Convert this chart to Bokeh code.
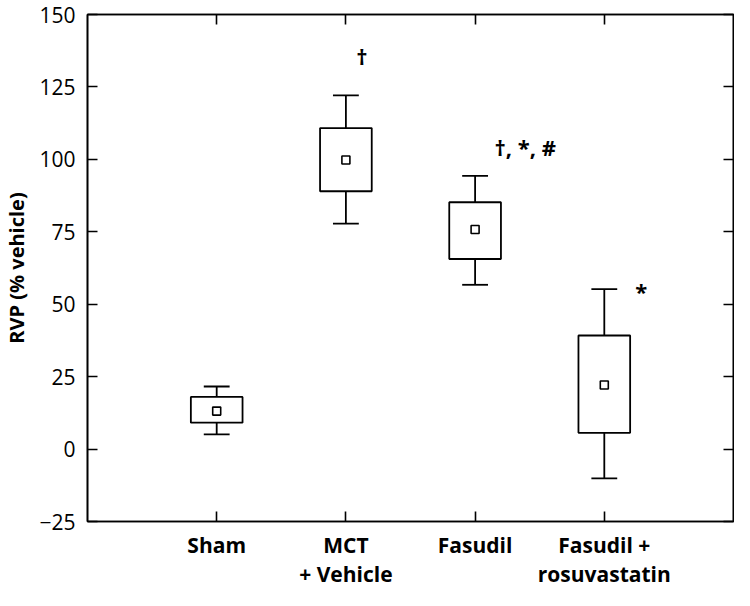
from bokeh.plotting import figure
from bokeh.models import LinearAxis, Range1d, FixedTicker, ColumnDataSource
from bokeh.core.properties import value
from bokeh.embed import file_html
from bokeh.resources import INLINE

# ---- data ----
categories = ["Sham", "MCT\n+ Vehicle", "Fasudil", "Fasudil +\nrosuvastatin"]
whisker_high = [21.6, 122.1, 94.3, 55.2]
box_top = [18.0, 110.8, 85.2, 39.2]
mean_val = [13.1, 99.8, 75.8, 22.1]
box_bottom = [9.1, 89.0, 65.6, 5.6]
whisker_low = [5.1, 77.8, 56.7, -10.1]
annotations = ["", "\u2020", "\u2020, *, #", "*"]
y_ticks = [-25, 0, 25, 50, 75, 100, 125, 150]

FONT = "Open Sans"
xs = [i + 1 for i in range(len(categories))]

p = figure(width=734, height=590, output_backend="svg", toolbar_location=None,
           x_range=Range1d(0, 5), y_range=Range1d(-25, 150),
           min_border_left=79, min_border_right=1, min_border_top=14, min_border_bottom=0)
p.grid.visible = False
p.background_fill_color = "white"
p.border_fill_color = "white"
p.outline_line_color = "black"
p.outline_line_width = 1.6

# axes
p.xaxis.ticker = FixedTicker(ticks=xs)
p.xaxis.major_label_overrides = {x: c for x, c in zip(xs, categories)}
p.yaxis.ticker = FixedTicker(ticks=y_ticks)
p.yaxis.major_label_overrides = {t: (str(t).replace("-", "\u2212")) for t in y_ticks}
p.yaxis.axis_label = "RVP (% vehicle)"

for ax in [p.xaxis[0], p.yaxis[0]]:
    ax.major_tick_in = 10
    ax.major_tick_out = 0
    ax.minor_tick_line_color = None
    ax.axis_line_width = 1.6
    ax.axis_line_color = "black"
    ax.major_tick_line_width = 1.6
    ax.major_tick_line_color = "black"
    ax.major_label_text_font = FONT
    ax.major_label_text_color = "black"
    ax.major_label_text_font_size = "21px"
p.xaxis.major_label_text_font_style = "bold"
p.xaxis.major_label_text_line_height = 1.05
p.xaxis.major_label_standoff = 9
p.yaxis.major_label_standoff = 12
p.yaxis.axis_label_text_font = FONT
p.yaxis.axis_label_text_font_style = "bold"
p.yaxis.axis_label_text_font_size = "20px"
p.yaxis.axis_label_text_color = "black"
p.yaxis.axis_label_standoff = 6

for loc, ticks in [("above", xs), ("right", y_ticks)]:
    ax = LinearAxis(ticker=FixedTicker(ticks=ticks), major_label_text_font_size="0px",
                    major_label_text_color=None,
                    major_tick_in=10, major_tick_out=0, minor_tick_line_color=None,
                    axis_line_width=1.6, major_tick_line_width=1.6, major_label_standoff=0,
                    axis_line_color="black", major_tick_line_color="black")
    p.add_layout(ax, loc)

src = ColumnDataSource(dict(x=xs, wh=whisker_high, bt=box_top, m=mean_val,
                            bb=box_bottom, wl=whisker_low,
                            cl=[x - 0.1 for x in xs], cr=[x + 0.1 for x in xs]))
LW = 1.8
# whiskers
p.segment(x0="x", y0="bt", x1="x", y1="wh", source=src, line_color="black", line_width=LW)
p.segment(x0="x", y0="bb", x1="x", y1="wl", source=src, line_color="black", line_width=LW)
# caps
p.segment(x0="cl", y0="wh", x1="cr", y1="wh", source=src, line_color="black", line_width=LW)
p.segment(x0="cl", y0="wl", x1="cr", y1="wl", source=src, line_color="black", line_width=LW)
# boxes
p.vbar(x="x", top="bt", bottom="bb", width=0.4, source=src,
       fill_color="white", line_color="black", line_width=LW)
# means
p.scatter(x="x", y="m", source=src, marker="square", size=8,
          fill_color="white", line_color="black", line_width=1.6)

# significance annotations
ann_dx = [0, 0.08, 0.15, 0.24]
ann_dy = [0, 13.5, 10.0, -0.5]
asrc = ColumnDataSource(dict(x=[x + d for x, d in zip(xs, ann_dx)],
                             y=[w + d for w, d in zip(whisker_high, ann_dy)],
                             t=annotations))
p.text(x="x", y="y", text="t", source=asrc, text_font=value(FONT),
       text_font_size="22px", text_align="left", text_baseline="middle",
       text_color="black", text_font_style="bold")

open("out.html", "w").write(file_html(p, INLINE))
